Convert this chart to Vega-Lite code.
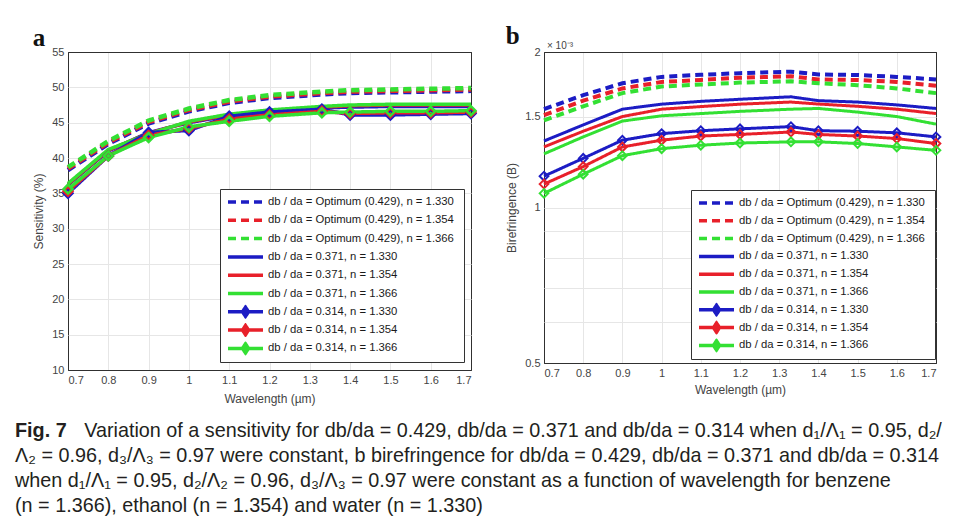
{
  "$schema": "https://vega.github.io/schema/vega-lite/v6.json",
  "background": "white",
  "padding": {"left": 15, "top": 23, "right": 5, "bottom": 5},
  "spacing": 24,
  "config": {
    "font": "Liberation Sans, Arial, sans-serif",
    "view": {"stroke": "#303030", "strokeWidth": 1},
    "axis": {
      "labelFont": "Liberation Sans, Arial, sans-serif",
      "titleFont": "Liberation Sans, Arial, sans-serif",
      "labelFontSize": 11, "labelColor": "#444444",
      "titleFontSize": 12, "titleFontWeight": "normal", "titleColor": "#444444",
      "gridColor": "#e6e6e6", "domain": false, "ticks": false, "labelPadding": 4, "titlePadding": 6,
      "labelOverlap": false
    },
    "legend": {
      "labelFont": "Liberation Sans, Arial, sans-serif",
      "labelFontSize": 11.3, "labelColor": "#1a1a1a", "labelLimit": 400
    }
  },
  "datasets": {
    "sens": [
      {"series":1,"x":0.7,"y":38.3},{"series":1,"x":0.8,"y":42.0},{"series":1,"x":0.9,"y":44.9},{"series":1,"x":1.0,"y":46.6},{"series":1,"x":1.1,"y":47.8},{"series":1,"x":1.2,"y":48.5},{"series":1,"x":1.33,"y":49.0},{"series":1,"x":1.4,"y":49.2},{"series":1,"x":1.5,"y":49.3},{"series":1,"x":1.6,"y":49.4},{"series":1,"x":1.7,"y":49.5},
      {"series":2,"x":0.7,"y":38.5},{"series":2,"x":0.8,"y":42.2},{"series":2,"x":0.9,"y":45.1},{"series":2,"x":1.0,"y":46.8},{"series":2,"x":1.1,"y":48.0},{"series":2,"x":1.2,"y":48.7},{"series":2,"x":1.33,"y":49.2},{"series":2,"x":1.4,"y":49.4},{"series":2,"x":1.5,"y":49.5},{"series":2,"x":1.6,"y":49.6},{"series":2,"x":1.7,"y":49.7},
      {"series":3,"x":0.7,"y":38.7},{"series":3,"x":0.8,"y":42.4},{"series":3,"x":0.9,"y":45.3},{"series":3,"x":1.0,"y":47.0},{"series":3,"x":1.1,"y":48.2},{"series":3,"x":1.2,"y":48.9},{"series":3,"x":1.33,"y":49.4},{"series":3,"x":1.4,"y":49.6},{"series":3,"x":1.5,"y":49.7},{"series":3,"x":1.6,"y":49.8},{"series":3,"x":1.7,"y":49.9},
      {"series":4,"x":0.7,"y":36.2},{"series":4,"x":0.8,"y":41.0},{"series":4,"x":0.9,"y":43.6},{"series":4,"x":1.0,"y":45.0},{"series":4,"x":1.1,"y":46.0},{"series":4,"x":1.2,"y":46.6},{"series":4,"x":1.33,"y":47.1},{"series":4,"x":1.4,"y":47.2},{"series":4,"x":1.5,"y":47.3},{"series":4,"x":1.6,"y":47.3},{"series":4,"x":1.7,"y":47.3},
      {"series":5,"x":0.7,"y":36.3},{"series":5,"x":0.8,"y":41.1},{"series":5,"x":0.9,"y":43.5},{"series":5,"x":1.0,"y":45.1},{"series":5,"x":1.1,"y":46.1},{"series":5,"x":1.2,"y":46.7},{"series":5,"x":1.33,"y":47.2},{"series":5,"x":1.4,"y":47.4},{"series":5,"x":1.5,"y":47.5},{"series":5,"x":1.6,"y":47.5},{"series":5,"x":1.7,"y":47.5},
      {"series":6,"x":0.7,"y":36.4},{"series":6,"x":0.8,"y":41.2},{"series":6,"x":0.9,"y":43.4},{"series":6,"x":1.0,"y":45.2},{"series":6,"x":1.1,"y":46.2},{"series":6,"x":1.2,"y":46.8},{"series":6,"x":1.33,"y":47.3},{"series":6,"x":1.4,"y":47.5},{"series":6,"x":1.5,"y":47.6},{"series":6,"x":1.6,"y":47.6},{"series":6,"x":1.7,"y":47.6},
      {"series":7,"x":0.7,"y":35.0},{"series":7,"x":0.8,"y":40.3},{"series":7,"x":0.9,"y":43.6},{"series":7,"x":1.0,"y":43.9},{"series":7,"x":1.1,"y":45.9},{"series":7,"x":1.2,"y":46.5},{"series":7,"x":1.33,"y":46.9},{"series":7,"x":1.4,"y":46.1},{"series":7,"x":1.5,"y":46.1},{"series":7,"x":1.6,"y":46.2},{"series":7,"x":1.7,"y":46.3},
      {"series":8,"x":0.7,"y":35.3},{"series":8,"x":0.8,"y":40.3},{"series":8,"x":0.9,"y":43.2},{"series":8,"x":1.0,"y":44.2},{"series":8,"x":1.1,"y":45.5},{"series":8,"x":1.2,"y":46.1},{"series":8,"x":1.33,"y":46.6},{"series":8,"x":1.4,"y":46.3},{"series":8,"x":1.5,"y":46.4},{"series":8,"x":1.6,"y":46.4},{"series":8,"x":1.7,"y":46.5},
      {"series":9,"x":0.7,"y":35.6},{"series":9,"x":0.8,"y":40.3},{"series":9,"x":0.9,"y":42.9},{"series":9,"x":1.0,"y":44.4},{"series":9,"x":1.1,"y":45.2},{"series":9,"x":1.2,"y":45.9},{"series":9,"x":1.33,"y":46.4},{"series":9,"x":1.4,"y":46.5},{"series":9,"x":1.5,"y":46.6},{"series":9,"x":1.6,"y":46.6},{"series":9,"x":1.7,"y":46.7}
    ],
    "bire": [
      {"series":1,"x":0.7,"y":1.55},{"series":1,"x":0.8,"y":1.65},{"series":1,"x":0.9,"y":1.74},{"series":1,"x":1.0,"y":1.79},{"series":1,"x":1.1,"y":1.807},{"series":1,"x":1.2,"y":1.82},{"series":1,"x":1.33,"y":1.832},{"series":1,"x":1.4,"y":1.81},{"series":1,"x":1.5,"y":1.805},{"series":1,"x":1.6,"y":1.79},{"series":1,"x":1.7,"y":1.77},
      {"series":2,"x":0.7,"y":1.51},{"series":2,"x":0.8,"y":1.61},{"series":2,"x":0.9,"y":1.70},{"series":2,"x":1.0,"y":1.75},{"series":2,"x":1.1,"y":1.766},{"series":2,"x":1.2,"y":1.783},{"series":2,"x":1.33,"y":1.795},{"series":2,"x":1.4,"y":1.77},{"series":2,"x":1.5,"y":1.765},{"series":2,"x":1.6,"y":1.75},{"series":2,"x":1.7,"y":1.72},
      {"series":3,"x":0.7,"y":1.475},{"series":3,"x":0.8,"y":1.57},{"series":3,"x":0.9,"y":1.665},{"series":3,"x":1.0,"y":1.715},{"series":3,"x":1.1,"y":1.73},{"series":3,"x":1.2,"y":1.745},{"series":3,"x":1.33,"y":1.755},{"series":3,"x":1.4,"y":1.74},{"series":3,"x":1.5,"y":1.725},{"series":3,"x":1.6,"y":1.70},{"series":3,"x":1.7,"y":1.665},
      {"series":4,"x":0.7,"y":1.345},{"series":4,"x":0.8,"y":1.445},{"series":4,"x":0.9,"y":1.55},{"series":4,"x":1.0,"y":1.585},{"series":4,"x":1.1,"y":1.605},{"series":4,"x":1.2,"y":1.62},{"series":4,"x":1.33,"y":1.638},{"series":4,"x":1.4,"y":1.61},{"series":4,"x":1.5,"y":1.60},{"series":4,"x":1.6,"y":1.58},{"series":4,"x":1.7,"y":1.555},
      {"series":5,"x":0.7,"y":1.31},{"series":5,"x":0.8,"y":1.405},{"series":5,"x":0.9,"y":1.50},{"series":5,"x":1.0,"y":1.55},{"series":5,"x":1.1,"y":1.568},{"series":5,"x":1.2,"y":1.585},{"series":5,"x":1.33,"y":1.60},{"series":5,"x":1.4,"y":1.586},{"series":5,"x":1.5,"y":1.57},{"series":5,"x":1.6,"y":1.55},{"series":5,"x":1.7,"y":1.52},
      {"series":6,"x":0.7,"y":1.27},{"series":6,"x":0.8,"y":1.37},{"series":6,"x":0.9,"y":1.47},{"series":6,"x":1.0,"y":1.505},{"series":6,"x":1.1,"y":1.52},{"series":6,"x":1.2,"y":1.535},{"series":6,"x":1.33,"y":1.55},{"series":6,"x":1.4,"y":1.555},{"series":6,"x":1.5,"y":1.53},{"series":6,"x":1.6,"y":1.50},{"series":6,"x":1.7,"y":1.45},
      {"series":7,"x":0.7,"y":1.15},{"series":7,"x":0.8,"y":1.245},{"series":7,"x":0.9,"y":1.35},{"series":7,"x":1.0,"y":1.39},{"series":7,"x":1.1,"y":1.408},{"series":7,"x":1.2,"y":1.42},{"series":7,"x":1.33,"y":1.434},{"series":7,"x":1.4,"y":1.408},{"series":7,"x":1.5,"y":1.405},{"series":7,"x":1.6,"y":1.395},{"series":7,"x":1.7,"y":1.37},
      {"series":8,"x":0.7,"y":1.11},{"series":8,"x":0.8,"y":1.20},{"series":8,"x":0.9,"y":1.31},{"series":8,"x":1.0,"y":1.35},{"series":8,"x":1.1,"y":1.375},{"series":8,"x":1.2,"y":1.385},{"series":8,"x":1.33,"y":1.40},{"series":8,"x":1.4,"y":1.385},{"series":8,"x":1.5,"y":1.375},{"series":8,"x":1.6,"y":1.36},{"series":8,"x":1.7,"y":1.33},
      {"series":9,"x":0.7,"y":1.065},{"series":9,"x":0.8,"y":1.16},{"series":9,"x":0.9,"y":1.26},{"series":9,"x":1.0,"y":1.30},{"series":9,"x":1.1,"y":1.32},{"series":9,"x":1.2,"y":1.333},{"series":9,"x":1.33,"y":1.34},{"series":9,"x":1.4,"y":1.34},{"series":9,"x":1.5,"y":1.33},{"series":9,"x":1.6,"y":1.31},{"series":9,"x":1.7,"y":1.29}
    ]
  },
  "title": {
    "text": "Fig. 7",
    "subtitle": [
      "\u200B\u2003\u2003\u2003\u2002Variation of a sensitivity for db/da = 0.429, db/da = 0.371 and db/da = 0.314 when d₁/Λ₁ = 0.95, d₂/",
      "Λ₂ = 0.96, d₃/Λ₃ = 0.97 were constant, b birefringence for db/da = 0.429, db/da = 0.371 and db/da = 0.314",
      "when d₁/Λ₁ = 0.95, d₂/Λ₂ = 0.96, d₃/Λ₃ = 0.97 were constant as a function of wavelength for benzene",
      "(n = 1.366), ethanol (n = 1.354) and water (n = 1.330)"
    ],
    "orient": "bottom",
    "anchor": "start",
    "frame": "group",
    "dx": -53,
    "offset": 16,
    "font": "Liberation Sans, Arial, sans-serif",
    "fontSize": 19.8,
    "fontWeight": "bold",
    "color": "#231f20",
    "subtitleFont": "Liberation Sans, Arial, sans-serif",
    "subtitleFontSize": 19.8,
    "subtitleColor": "#231f20",
    "subtitleLineHeight": 25,
    "subtitlePadding": -19.8
  },
  "hconcat": [
    {
      "width": 403,
      "height": 318,
      "title": {"text": "a", "font": "Liberation Serif", "fontWeight": "bold", "fontSize": 25, "anchor": "start", "dx": 0, "dy": 9, "offset": 4, "color": "#111"},
      "data": {"name": "sens"},
      "encoding": {
        "x": {"field": "x", "type": "quantitative", "scale": {"domain": [0.7, 1.7], "nice": false, "zero": false},
              "axis": {"values": [0.7,0.8,0.9,1.0,1.1,1.2,1.3,1.4,1.5,1.6,1.7], "title": "Wavelength (µm)", "titlePadding": 8, "labelOverlap": false, "labelExpr": "'' + round(datum.value*10)/10",
                       "gridColor": {"condition": {"test": "datum.value <= 0.7 || datum.value >= 1.7", "value": "#303030"}, "value": "#e6e6e6"}}},
        "y": {"field": "y", "type": "quantitative", "scale": {"domain": [10, 55], "nice": false, "zero": false},
              "axis": {"values": [10,15,20,25,30,35,40,45,50,55], "title": "Sensitivity (%)", "labelOverlap": false,
                       "gridColor": {"condition": {"test": "datum.value == 10 || datum.value == 55", "value": "#303030"}, "value": "#e6e6e6"}}}
      },
      "layer": [
        {
          "mark": {"type": "line", "clip": false},
          "encoding": {
            "color": {"field": "series", "type": "nominal",
                      "scale": {"domain": [1,2,3,4,5,6,7,8,9], "range": ["#1c1cc4","#e8202a","#33e033","#1c1cc4","#e8202a","#33e033","#1c1cc4","#e8202a","#33e033"]},
                      "legend": {"title": null, "orient": "none", "legendX": 152, "legendY": 137, "symbolSize": 1225, "clipHeight": 14, "rowPadding": 4.3, "padding": 6, "labelOffset": 3,
                                 "strokeColor": "#333", "fillColor": "white", "symbolStrokeWidth": 3.5, "symbolFillColor": "transparent",
                                 "labelExpr": "['db / da = Optimum (0.429),  n = 1.330','db / da = Optimum (0.429),  n = 1.354','db / da = Optimum (0.429),  n = 1.366','db / da = 0.371,  n = 1.330','db / da = 0.371,  n = 1.354','db / da = 0.371,  n = 1.366','db / da = 0.314,  n = 1.330','db / da = 0.314,  n = 1.354','db / da = 0.314,  n = 1.366'][datum.value - 1]",
                                 "encode": {"symbols": {"update": {"shape": {"signal": "datum.index >= 6 ? 'M-1,0L1,0M0,-0.26L0.17,0L0,0.26L-0.17,0Z' : 'M-1,0L1,0'"}, "fill": {"value": "transparent"}}}}}},
            "strokeDash": {"field": "series", "type": "nominal",
                      "scale": {"domain": [1,2,3,4,5,6,7,8,9], "range": [[8,5],[8,5],[8,5],[1,0],[1,0],[1,0],[1,0],[1,0],[1,0]]},
                      "legend": {"title": null, "orient": "none", "legendX": 152, "legendY": 137, "symbolSize": 1225, "clipHeight": 14, "rowPadding": 4.3, "padding": 6, "labelOffset": 3,
                                 "strokeColor": "#333", "fillColor": "white", "symbolStrokeWidth": 3.5, "symbolFillColor": "transparent",
                                 "labelExpr": "['db / da = Optimum (0.429),  n = 1.330','db / da = Optimum (0.429),  n = 1.354','db / da = Optimum (0.429),  n = 1.366','db / da = 0.371,  n = 1.330','db / da = 0.371,  n = 1.354','db / da = 0.371,  n = 1.366','db / da = 0.314,  n = 1.330','db / da = 0.314,  n = 1.354','db / da = 0.314,  n = 1.366'][datum.value - 1]",
                                 "encode": {"symbols": {"update": {"shape": {"signal": "datum.index >= 6 ? 'M-1,0L1,0M0,-0.26L0.17,0L0,0.26L-0.17,0Z' : 'M-1,0L1,0'"}, "fill": {"value": "transparent"}}}}}},
            "strokeWidth": {"condition": {"test": "datum.series <= 3", "value": 4.5}, "value": 3.5}
          }
        },
        {
          "transform": [{"filter": "datum.series >= 7"}],
          "mark": {"type": "point", "shape": "diamond", "filled": false, "size": 80, "strokeWidth": 2.5, "opacity": 1},
          "encoding": {
            "color": {"field": "series", "type": "nominal", "legend": null}
          }
        }
      ]
    },
    {
      "width": 392,
      "height": 311,
      "title": {"text": "b", "font": "Liberation Serif", "fontWeight": "bold", "fontSize": 25, "anchor": "start", "dx": 0, "dy": 12, "offset": 4, "color": "#111"},
      "data": {"name": "bire"},
      "encoding": {
        "x": {"field": "x", "type": "quantitative", "scale": {"domain": [0.7, 1.7], "nice": false, "zero": false},
              "axis": {"values": [0.7,0.8,0.9,1.0,1.1,1.2,1.3,1.4,1.5,1.6,1.7], "title": "Wavelength (µm)", "titlePadding": 6, "labelOverlap": false, "labelExpr": "'' + round(datum.value*10)/10",
                       "gridColor": {"condition": {"test": "datum.value <= 0.7 || datum.value >= 1.7", "value": "#303030"}, "value": "#e6e6e6"}}},
        "y": {"field": "y", "type": "quantitative", "scale": {"type": "log", "domain": [0.5, 2], "nice": false, "zero": false},
              "axis": {"values": [0.5,0.6,0.7,0.8,0.9,1,1.5,2], "title": "Birefringence (B)", "labelOverlap": false, "labelExpr": "datum.value == 0.5 || datum.value == 1 || datum.value == 1.5 || datum.value == 2 ? '' + datum.value : ''",
                       "gridColor": {"condition": {"test": "datum.value == 0.5 || datum.value == 2", "value": "#303030"}, "value": "#e6e6e6"}}}
      },
      "layer": [
        {
          "mark": {"type": "line", "clip": false},
          "encoding": {
            "color": {"field": "series", "type": "nominal",
                      "scale": {"domain": [1,2,3,4,5,6,7,8,9], "range": ["#1c1cc4","#e8202a","#33e033","#1c1cc4","#e8202a","#33e033","#1c1cc4","#e8202a","#33e033"]},
                      "legend": {"title": null, "orient": "none", "legendX": 147, "legendY": 138, "symbolSize": 1225, "clipHeight": 14, "rowPadding": 3.8, "padding": 6, "labelOffset": 3,
                                 "strokeColor": "#333", "fillColor": "white", "symbolStrokeWidth": 3.5, "symbolFillColor": "transparent",
                                 "labelExpr": "['db / da = Optimum (0.429),  n = 1.330','db / da = Optimum (0.429),  n = 1.354','db / da = Optimum (0.429),  n = 1.366','db / da = 0.371,  n = 1.330','db / da = 0.371,  n = 1.354','db / da = 0.371,  n = 1.366','db / da = 0.314,  n = 1.330','db / da = 0.314,  n = 1.354','db / da = 0.314,  n = 1.366'][datum.value - 1]",
                                 "encode": {"symbols": {"update": {"shape": {"signal": "datum.index >= 6 ? 'M-1,0L1,0M0,-0.26L0.17,0L0,0.26L-0.17,0Z' : 'M-1,0L1,0'"}, "fill": {"value": "transparent"}}}}}},
            "strokeDash": {"field": "series", "type": "nominal",
                      "scale": {"domain": [1,2,3,4,5,6,7,8,9], "range": [[8,5],[8,5],[8,5],[1,0],[1,0],[1,0],[1,0],[1,0],[1,0]]},
                      "legend": {"title": null, "orient": "none", "legendX": 147, "legendY": 138, "symbolSize": 1225, "clipHeight": 14, "rowPadding": 3.8, "padding": 6, "labelOffset": 3,
                                 "strokeColor": "#333", "fillColor": "white", "symbolStrokeWidth": 3.5, "symbolFillColor": "transparent",
                                 "labelExpr": "['db / da = Optimum (0.429),  n = 1.330','db / da = Optimum (0.429),  n = 1.354','db / da = Optimum (0.429),  n = 1.366','db / da = 0.371,  n = 1.330','db / da = 0.371,  n = 1.354','db / da = 0.371,  n = 1.366','db / da = 0.314,  n = 1.330','db / da = 0.314,  n = 1.354','db / da = 0.314,  n = 1.366'][datum.value - 1]",
                                 "encode": {"symbols": {"update": {"shape": {"signal": "datum.index >= 6 ? 'M-1,0L1,0M0,-0.26L0.17,0L0,0.26L-0.17,0Z' : 'M-1,0L1,0'"}, "fill": {"value": "transparent"}}}}}},
            "strokeWidth": {"condition": {"test": "datum.series <= 3", "value": 4}, "value": 3}
          }
        },
        {
          "transform": [{"filter": "datum.series >= 7"}],
          "mark": {"type": "point", "shape": "diamond", "filled": false, "size": 75, "strokeWidth": 2, "opacity": 1},
          "encoding": {
            "color": {"field": "series", "type": "nominal", "legend": null}
          }
        },
        {
          "transform": [{"filter": "datum.series == 1 && datum.x == 0.7"}],
          "mark": {"type": "text", "align": "left", "baseline": "bottom", "dx": 3, "dy": -1, "fontSize": 10, "color": "#444444"},
          "encoding": {
            "y": {"datum": 2, "type": "quantitative",
                  "axis": {"values": [0.5,0.6,0.7,0.8,0.9,1,1.5,2], "title": "Birefringence (B)", "labelOverlap": false, "labelExpr": "datum.value == 0.5 || datum.value == 1 || datum.value == 1.5 || datum.value == 2 ? '' + datum.value : ''",
                           "gridColor": {"condition": {"test": "datum.value == 0.5 || datum.value == 2", "value": "#303030"}, "value": "#e6e6e6"}}},
            "text": {"value": "× 10⁻³"}
          }
        }
      ]
    }
  ],
  "resolve": {"legend": {"color": "independent", "strokeDash": "independent"}, "scale": {"color": "independent", "strokeDash": "independent"}}
}
